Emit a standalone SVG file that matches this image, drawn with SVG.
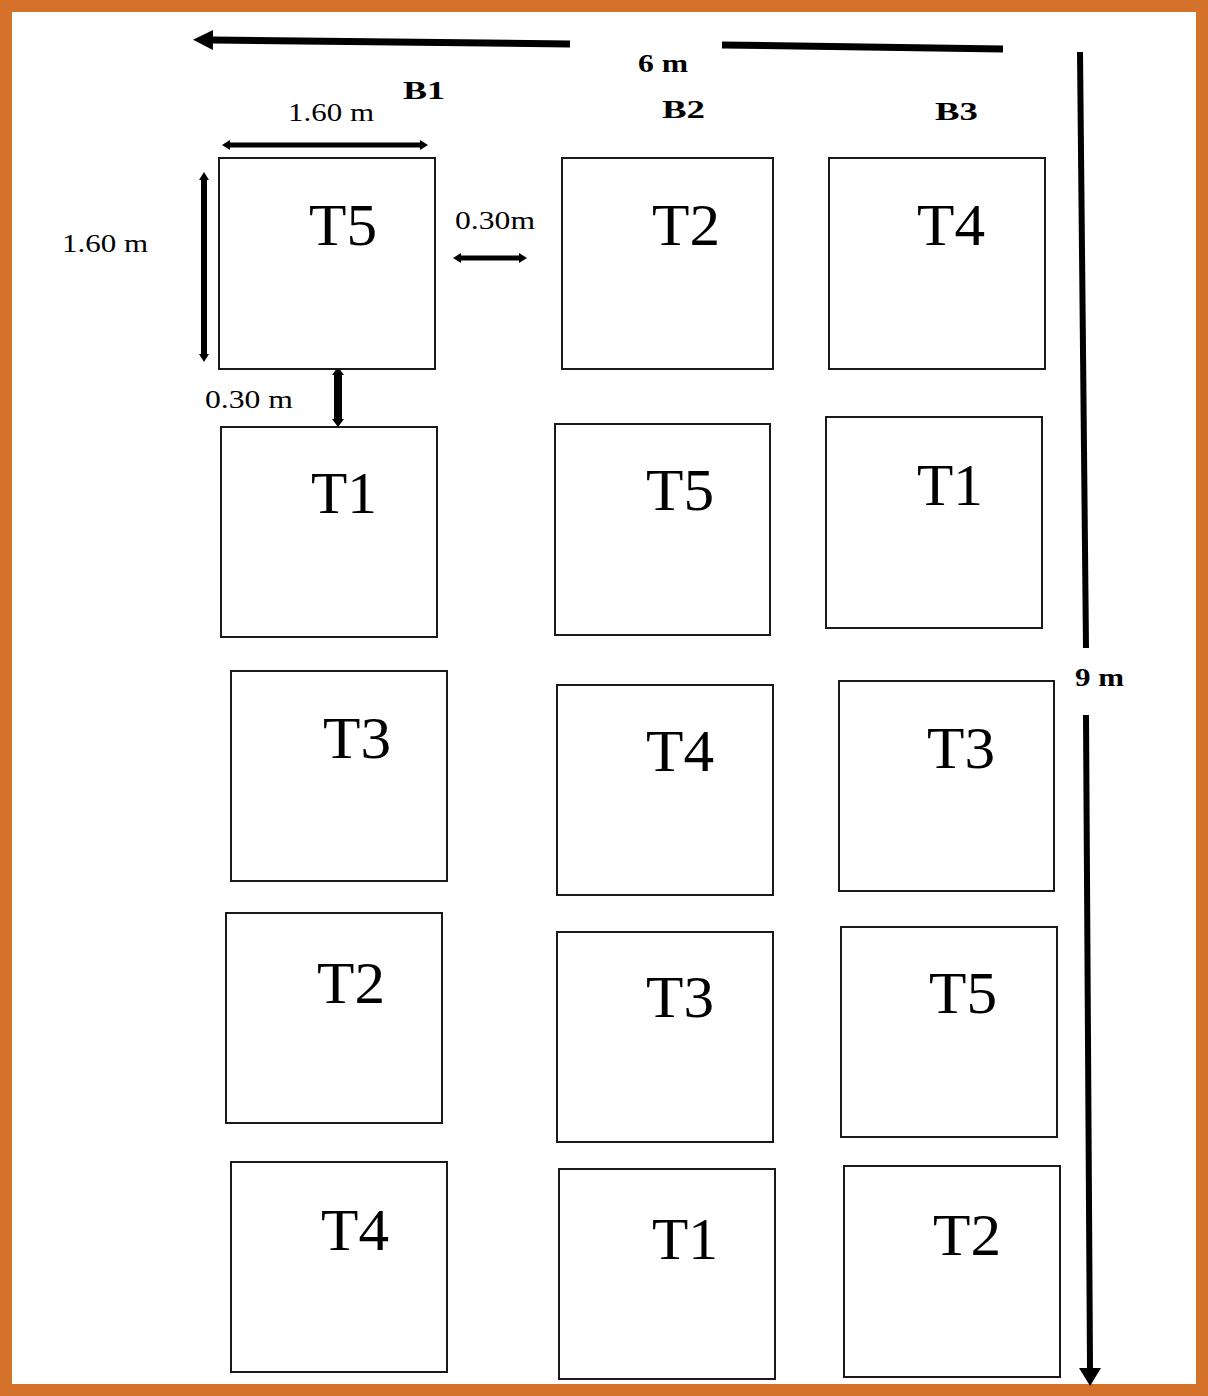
<svg xmlns="http://www.w3.org/2000/svg" width="1208" height="1396" viewBox="0 0 1208 1396">
<style>
.plot{fill:#fff;stroke:#1a1a1a;stroke-width:2}
.tl{font-family:"Liberation Serif",serif;font-size:60px;fill:#000}
.dim{font-family:"Liberation Serif",serif;font-size:25px;fill:#000}
.bold{font-family:"Liberation Serif",serif;font-size:26px;font-weight:bold;fill:#000}
.ln{stroke:#000;fill:none}
</style>
<defs>
<marker id="big" viewBox="0 0 20 20" markerWidth="20" markerHeight="20" refX="0" refY="10" orient="auto-start-reverse" markerUnits="userSpaceOnUse"><path d="M0,0 L20,10 L0,20 z" fill="#000"/></marker>
<marker id="down" viewBox="0 0 18 22" markerWidth="18" markerHeight="22" refX="0" refY="11" orient="auto-start-reverse" markerUnits="userSpaceOnUse"><path d="M0,0 L18,11 L0,22 z" fill="#000"/></marker>
<marker id="sm" viewBox="0 0 8 10" markerWidth="8" markerHeight="10" refX="0" refY="5" orient="auto-start-reverse" markerUnits="userSpaceOnUse"><path d="M0,0 L8,5 L0,10 z" fill="#000"/></marker>
<marker id="sm2" viewBox="0 0 8 12" markerWidth="8" markerHeight="12" refX="0" refY="6" orient="auto-start-reverse" markerUnits="userSpaceOnUse"><path d="M0,0 L8,6 L0,12 z" fill="#000"/></marker>
</defs>
<rect x="0" y="0" width="1208" height="1396" fill="#fff"/>
<rect id="border" x="6" y="6" width="1196" height="1384" fill="none" stroke="#D4722C" stroke-width="12"/>

<g id="connectors">
<path class="ln" d="M570,44 L213,40" stroke-width="7" marker-end="url(#big)"/>
<path class="ln" d="M722,45 L1003,49" stroke-width="7"/>
<path class="ln" d="M1080,52 L1086,648" stroke-width="6"/>
<path class="ln" d="M1086,715 L1090,1368" stroke-width="6" marker-end="url(#down)"/>
<path class="ln" d="M230,145 L420,145" stroke-width="5" marker-start="url(#sm)" marker-end="url(#sm)"/>
<path class="ln" d="M204,180 L204,354" stroke-width="6" marker-start="url(#sm)" marker-end="url(#sm)"/>
<path class="ln" d="M461,258 L519,258" stroke-width="5" marker-start="url(#sm)" marker-end="url(#sm)"/>
<path class="ln" d="M338,375 L338,419" stroke-width="8" marker-start="url(#sm2)" marker-end="url(#sm2)"/>
</g>

<g id="labels">
<text class="bold" x="638" y="72" textLength="50" lengthAdjust="spacingAndGlyphs">6 m</text>
<text class="bold" x="1075" y="686" textLength="49" lengthAdjust="spacingAndGlyphs">9 m</text>
<text class="bold" x="403" y="99" textLength="42" lengthAdjust="spacingAndGlyphs">B1</text>
<text class="bold" x="662" y="118" textLength="43" lengthAdjust="spacingAndGlyphs">B2</text>
<text class="bold" x="935" y="120" textLength="43" lengthAdjust="spacingAndGlyphs">B3</text>
<text class="dim" x="288" y="121" textLength="86" lengthAdjust="spacingAndGlyphs">1.60 m</text>
<text class="dim" x="62" y="252" textLength="86" lengthAdjust="spacingAndGlyphs">1.60 m</text>
<text class="dim" x="455" y="229" textLength="80" lengthAdjust="spacingAndGlyphs">0.30m</text>
<text class="dim" x="205" y="408" textLength="88" lengthAdjust="spacingAndGlyphs">0.30 m</text>
</g>

<g id="b1-t5"><rect class="plot" x="219" y="158" width="216" height="211"/><text class="tl" x="309" y="245" textLength="68" lengthAdjust="spacingAndGlyphs">T5</text></g>
<g id="b1-t1"><rect class="plot" x="221" y="427" width="216" height="210"/><text class="tl" x="311" y="513" textLength="66" lengthAdjust="spacingAndGlyphs">T1</text></g>
<g id="b1-t3"><rect class="plot" x="231" y="671" width="216" height="210"/><text class="tl" x="323" y="758" textLength="68" lengthAdjust="spacingAndGlyphs">T3</text></g>
<g id="b1-t2"><rect class="plot" x="226" y="913" width="216" height="210"/><text class="tl" x="317" y="1003" textLength="68" lengthAdjust="spacingAndGlyphs">T2</text></g>
<g id="b1-t4"><rect class="plot" x="231" y="1162" width="216" height="210"/><text class="tl" x="321" y="1250" textLength="68" lengthAdjust="spacingAndGlyphs">T4</text></g>

<g id="b2-t2"><rect class="plot" x="562" y="158" width="211" height="211"/><text class="tl" x="652" y="245" textLength="68" lengthAdjust="spacingAndGlyphs">T2</text></g>
<g id="b2-t5"><rect class="plot" x="555" y="424" width="215" height="211"/><text class="tl" x="646" y="510" textLength="68" lengthAdjust="spacingAndGlyphs">T5</text></g>
<g id="b2-t4"><rect class="plot" x="557" y="685" width="216" height="210"/><text class="tl" x="646" y="771" textLength="68" lengthAdjust="spacingAndGlyphs">T4</text></g>
<g id="b2-t3"><rect class="plot" x="557" y="932" width="216" height="210"/><text class="tl" x="646" y="1017" textLength="68" lengthAdjust="spacingAndGlyphs">T3</text></g>
<g id="b2-t1"><rect class="plot" x="559" y="1169" width="216" height="210"/><text class="tl" x="652" y="1259" textLength="66" lengthAdjust="spacingAndGlyphs">T1</text></g>

<g id="b3-t4"><rect class="plot" x="829" y="158" width="216" height="211"/><text class="tl" x="917" y="245" textLength="68" lengthAdjust="spacingAndGlyphs">T4</text></g>
<g id="b3-t1"><rect class="plot" x="826" y="417" width="216" height="211"/><text class="tl" x="917" y="505" textLength="66" lengthAdjust="spacingAndGlyphs">T1</text></g>
<g id="b3-t3"><rect class="plot" x="839" y="681" width="215" height="210"/><text class="tl" x="927" y="768" textLength="68" lengthAdjust="spacingAndGlyphs">T3</text></g>
<g id="b3-t5"><rect class="plot" x="841" y="927" width="216" height="210"/><text class="tl" x="929" y="1013" textLength="68" lengthAdjust="spacingAndGlyphs">T5</text></g>
<g id="b3-t2"><rect class="plot" x="844" y="1166" width="216" height="211"/><text class="tl" x="933" y="1255" textLength="68" lengthAdjust="spacingAndGlyphs">T2</text></g>
</svg>
